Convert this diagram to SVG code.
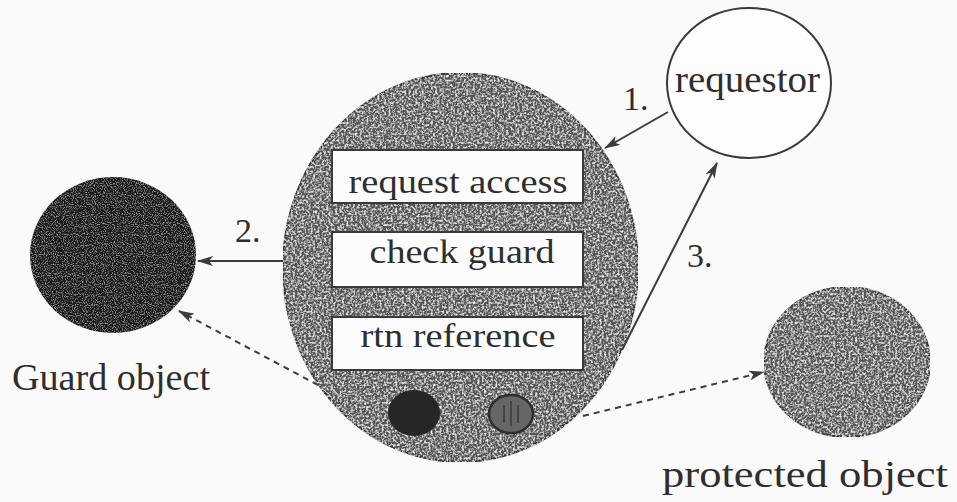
<svg xmlns="http://www.w3.org/2000/svg" width="957" height="502" viewBox="0 0 957 502">
<defs>
<style>
.lbl{fill:#2e2e2e;}
.box{fill:#fcfcfc;stroke:#3a3a3a;stroke-width:2;}
.bt{font-size:33px;fill:#2e2e2e;text-anchor:middle;}
.con{fill:none;stroke:#3c3c3c;stroke-width:2;}
.dash{stroke-dasharray:6 5;}
</style>
<filter id="grain" x="0" y="0" width="100%" height="100%">
<feTurbulence type="fractalNoise" baseFrequency="0.45" numOctaves="2" seed="4" result="n"/>
<feColorMatrix in="n" type="matrix" values="0 0 0 0 1 0 0 0 0 1 0 0 0 0 1 2.4 0 0 0 -1.05" result="sp"/>
<feComposite in="sp" in2="SourceGraphic" operator="in" result="spc"/>
<feMerge><feMergeNode in="SourceGraphic"/><feMergeNode in="spc"/></feMerge>
</filter>
<filter id="grainLight" x="0" y="0" width="100%" height="100%">
<feTurbulence type="fractalNoise" baseFrequency="0.9" numOctaves="1" seed="7" result="n"/>
<feColorMatrix in="n" type="matrix" values="0 0 0 0 1 0 0 0 0 1 0 0 0 0 1 1.2 0 0 0 -0.6" result="sp"/>
<feComposite in="sp" in2="SourceGraphic" operator="in" result="spc"/>
<feMerge><feMergeNode in="SourceGraphic"/><feMergeNode in="spc"/></feMerge>
</filter>
<marker id="ah" viewBox="0 0 16 10" refX="15" refY="5" markerWidth="16" markerHeight="10" markerUnits="userSpaceOnUse" orient="auto">
<path d="M0,0 L16,5 L0,10 L4,5 Z" fill="#3c3c3c"/>
</marker>
</defs>
<rect width="957" height="502" fill="#fafafa"/>

<g font-family="Liberation Serif, Times New Roman, DejaVu Serif, serif">
<g id="guard-object">
<ellipse cx="113" cy="255" rx="83" ry="78" fill="#1f1f1f" filter="url(#grainLight)"/>
<text class="lbl" x="12" y="390" font-size="38" textLength="198" lengthAdjust="spacingAndGlyphs">Guard object</text>
</g>

<g id="requestor">
<ellipse cx="749" cy="83" rx="82" ry="75" fill="#fdfdfd" stroke="#3a3a3a" stroke-width="2"/>
<text class="lbl" x="675" y="92" font-size="38" textLength="145" lengthAdjust="spacingAndGlyphs">requestor</text>
</g>

<g id="protected-object">
<ellipse cx="847" cy="362" rx="83" ry="75" fill="#575757" stroke="#3a3a3a" stroke-width="2" filter="url(#grain)"/>
<text class="lbl" x="662" y="487" font-size="38" textLength="286" lengthAdjust="spacingAndGlyphs">protected object</text>
</g>

<g id="guarded-object">
<ellipse cx="460.5" cy="267.5" rx="177.5" ry="194.5" fill="#555555" stroke="#383838" stroke-width="2" filter="url(#grain)"/>
<g id="box-request-access">
<rect class="box" x="332" y="150" width="251" height="53"/>
<text class="bt" x="458" y="193" textLength="219" lengthAdjust="spacingAndGlyphs">request access</text>
</g>
<g id="box-check-guard">
<rect class="box" x="332" y="232" width="251" height="55"/>
<text class="bt" x="462" y="263" textLength="185" lengthAdjust="spacingAndGlyphs">check guard</text>
</g>
<g id="box-rtn-reference">
<rect class="box" x="332" y="317" width="251" height="53"/>
<text class="bt" x="458" y="347" textLength="195" lengthAdjust="spacingAndGlyphs">rtn reference</text>
</g>
<ellipse cx="414" cy="413" rx="26" ry="23" fill="#262626"/>
<ellipse cx="511" cy="414" rx="22" ry="19" fill="#666" stroke="#2e2e2e" stroke-width="2.5"/>
<path d="M504,405 v18 M511,401 v25 M518,405 v18" stroke="#3a3a3a" stroke-width="1.5" fill="none"/>
</g>

<g id="connectors">
<line class="con" x1="668" y1="112" x2="605" y2="148" marker-end="url(#ah)"/>
<line class="con" x1="283" y1="261" x2="198" y2="261" marker-end="url(#ah)"/>
<line class="con" x1="622" y1="350" x2="717" y2="163" marker-end="url(#ah)"/>
<line class="con dash" x1="318" y1="385" x2="179" y2="311" marker-end="url(#ah)"/>
<line class="con dash" x1="583" y1="416" x2="764" y2="372" marker-end="url(#ah)"/>
<text class="lbl" x="623" y="110" font-size="34">1.</text>
<text class="lbl" x="235" y="242" font-size="34">2.</text>
<text class="lbl" x="687" y="267" font-size="34">3.</text>
</g>
</g>
</svg>
